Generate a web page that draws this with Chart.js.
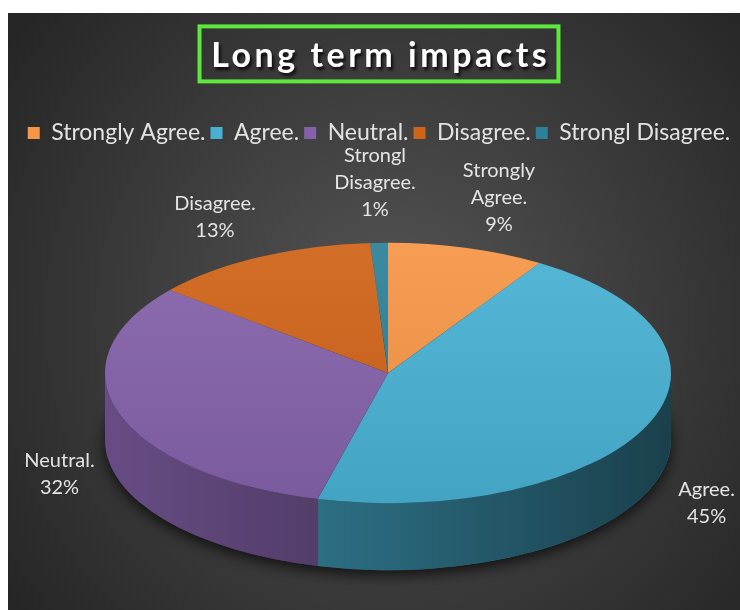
<!DOCTYPE html>
<html>
<head>
<meta charset="utf-8">
<script src="https://cdn.jsdelivr.net/npm/chart.js@4.4.1/dist/chart.umd.min.js"></script>
<style>
    html, body { margin: 0; padding: 0; background: #fff; }
    #wrap { width: 740px; height: 610px; }
</style>
</head>
<body>
<div id="wrap"><canvas id="chart"></canvas></div>
<script>
var categories = ["Strongly Agree.", "Agree.", "Neutral.", "Disagree.", "Strongl Disagree."];
var percentages = [9, 45, 32, 13, 1];
var sliceColors = ["#F79646", "#48B1D3", "#8462AA", "#CF6318", "#2C8198"];

var FONT = "Lato, 'Open Sans', sans-serif";
var TITLE_SIZE = 34;
var TILT = 0.46;      // vertical squash of the pie
var DEPTH = 67;       // height of the pie side
var PIE_SHIFT = 9;    // pie sits a bit right of the page centre
var LABEL_GAP = 60;

function titleY(chart) {
    var t = chart.titleBlock;
    var opts = chart.options.plugins.title;
    return t.top + opts.padding.top + TITLE_SIZE * 1.2 / 2;
}

// background, title text with shadow and green frame
var frame = {
    id: "frame",
    beforeDraw: function (chart) {
        var ctx = chart.ctx;
        ctx.save();
        ctx.fillStyle = "#fff";
        ctx.fillRect(0, 0, chart.width, chart.height);
        var g = ctx.createRadialGradient(390, 320, 0, 390, 320, 470);
        g.addColorStop(0, "#555555");
        g.addColorStop(1, "#262626");
        ctx.fillStyle = g;
        ctx.fillRect(8, 13, chart.width - 8, chart.height - 13);
        ctx.restore();
    },
    afterDraw: function (chart) {
        var ctx = chart.ctx;
        var t = chart.titleBlock;
        var text = chart.options.plugins.title.text;
        var x = t.left + t.width / 2;
        var y = titleY(chart);
        ctx.save();
        ctx.font = "bold " + TITLE_SIZE + "px " + FONT;
        ctx.letterSpacing = "3.5px";
        ctx.textAlign = "center";
        ctx.textBaseline = "middle";
        var w = ctx.measureText(text).width;
        ctx.fillStyle = "rgba(0,0,0,0.8)";
        ctx.filter = "blur(1.5px)";
        ctx.fillText(text, x + 2 + 1.75, y + 3);
        ctx.filter = "none";
        ctx.fillStyle = "#ffffff";
        ctx.fillText(text, x + 1.75, y);
        ctx.strokeStyle = "#5DE83C";
        ctx.lineWidth = 4;
        ctx.strokeRect(x - w / 2 - 10, y - 30, w + 20, 55);
        ctx.restore();
    }
};

// fake 3D: squash the pie and add a side wall
var pie3d = {
    id: "pie3d",
    afterLayout: function (chart) {
        var a = chart.chartArea;
        a.left += PIE_SHIFT * 2;
        a.width = a.right - a.left;
    },
    beforeDatasetsDraw: function (chart) {
        var ctx = chart.ctx;
        var arcs = chart.getDatasetMeta(0).data;
        var cx = arcs[0].x, cy = arcs[0].y, r = arcs[0].outerRadius, ry = r * TILT;

        ctx.save();
        ctx.shadowColor = "rgba(0,0,0,0.7)";
        ctx.shadowBlur = 14;
        ctx.shadowOffsetY = 5;
        ctx.beginPath();
        ctx.ellipse(cx, cy + DEPTH, r, ry, 0, 0, Math.PI * 2);
        ctx.fillStyle = "#202020";
        ctx.fill();
        ctx.restore();

        var shade = ctx.createLinearGradient(cx - r, 0, cx + r, 0);
        shade.addColorStop(0, "rgba(0,0,0,0.22)");
        shade.addColorStop(1, "rgba(0,0,0,0.64)");

        arcs.forEach(function (arc, i) {
            var a0 = Math.max(arc.startAngle, 0);
            var a1 = Math.min(arc.endAngle, Math.PI);
            if (a1 <= a0) return;
            ctx.beginPath();
            ctx.ellipse(cx, cy, r, ry, 0, a0, a1, false);
            ctx.ellipse(cx, cy + DEPTH, r, ry, 0, a1, a0, true);
            ctx.closePath();
            ctx.fillStyle = sliceColors[i];
            ctx.fill();
            ctx.fillStyle = shade;
            ctx.fill();
        });

        ctx.save();
        ctx.translate(0, cy);
        ctx.scale(1, TILT);
        ctx.translate(0, -cy);
    },
    afterDatasetsDraw: function (chart) {
        var ctx = chart.ctx;
        var arc = chart.getDatasetMeta(0).data[0];
        var g = ctx.createLinearGradient(0, arc.y - arc.outerRadius, 0, arc.y + arc.outerRadius);
        g.addColorStop(0, "rgba(255,255,255,0.07)");
        g.addColorStop(1, "rgba(0,0,0,0.08)");
        ctx.beginPath();
        ctx.arc(arc.x, arc.y, arc.outerRadius, 0, Math.PI * 2);
        ctx.fillStyle = g;
        ctx.fill();
        ctx.restore();
    }
};

// category + percent labels outside the slices
var sliceLabels = {
    id: "sliceLabels",
    afterDraw: function (chart) {
        var ctx = chart.ctx;
        var arcs = chart.getDatasetMeta(0).data;
        ctx.save();
        ctx.font = "20px " + FONT;
        ctx.fillStyle = "#e4e4e4";
        ctx.textAlign = "center";
        ctx.textBaseline = "middle";
        arcs.forEach(function (arc, i) {
            var r = arc.outerRadius, ry = r * TILT;
            var mid = (arc.startAngle + arc.endAngle) / 2;
            var dx = r * Math.cos(mid), dy = ry * Math.sin(mid);
            var len = Math.sqrt(dx * dx + dy * dy);
            var drop = dy > 0 ? DEPTH * Math.min(1, 2.5 * Math.sin(mid)) : 0;
            var x = arc.x + dx + dx / len * LABEL_GAP;
            var y = arc.y + dy + drop + dy / len * LABEL_GAP;
            var lines = categories[i].split(" ").concat([percentages[i] + "%"]);
            var lh = 27;
            lines.forEach(function (s, k) {
                ctx.fillText(s, x, y + (k - (lines.length - 1) / 2) * lh);
            });
        });
        ctx.restore();
    }
};

new Chart(document.getElementById("chart"), {
    type: "pie",
    data: {
        labels: categories,
        datasets: [{
            data: percentages,
            backgroundColor: sliceColors,
            borderWidth: 0,
            hoverOffset: 0,
            radius: 283,
            clip: false
        }]
    },
    options: {
        responsive: true,
        maintainAspectRatio: false,
        animation: false,
        events: [],
        layout: { padding: { top: 13, left: 18, right: 0, bottom: 18.5 } },
        plugins: {
            title: {
                display: true,
                text: "Long term impacts",
                color: "rgba(0,0,0,0)",
                font: { family: FONT, size: TITLE_SIZE, weight: "bold" },
                padding: { top: 23, bottom: 39.7 }
            },
            legend: {
                position: "top",
                labels: {
                    color: "#e2e2e2",
                    font: { family: FONT, size: 23 },
                    boxWidth: 12,
                    boxHeight: 12,
                    padding: 5
                }
            },
            tooltip: { enabled: false }
        }
    },
    plugins: [frame, pie3d, sliceLabels]
});
</script>
</body>
</html>
